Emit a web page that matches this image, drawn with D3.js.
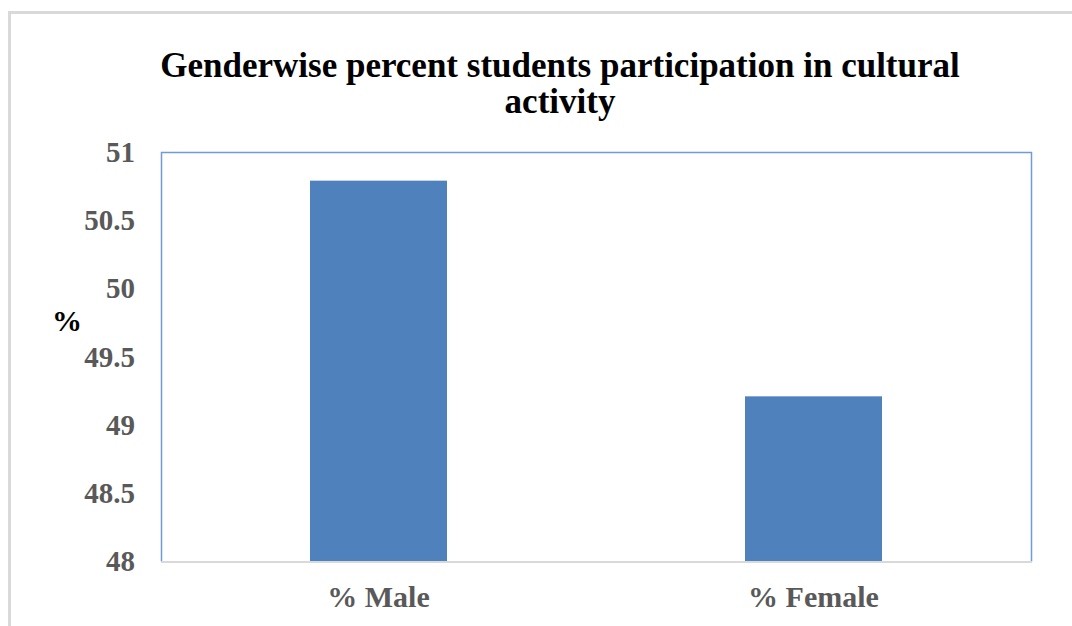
<!DOCTYPE html>
<html>
<head>
<meta charset="utf-8">
<script src="https://cdn.jsdelivr.net/npm/d3@7"></script>
<style>
  html, body { margin: 0; padding: 0; background: #ffffff; }
  svg { display: block; }
</style>
</head>
<body>
<svg id="chart" width="1072" height="626"></svg>
<script>
// Chart data
const categories = ["% Male", "% Female"];
const values = [50.79, 49.21];
const yTicks = [48, 48.5, 49, 49.5, 50, 50.5, 51];
const titleLines = ["Genderwise percent students participation in cultural", "activity"];
const yLabel = "%";

const W = 1072, H = 626;
const plot = { left: 161, right: 1031, top: 152, bottom: 561.5 };
const serif = "'Liberation Serif', 'Times New Roman', serif";

const svg = d3.select("#chart");

// Outer frame (top and left edges visible)
svg.append("path")
  .attr("d", `M9.5,${H} V12.5 H${W}`)
  .attr("fill", "none")
  .attr("stroke", "#d9d9d9")
  .attr("stroke-width", 3);

const x = d3.scaleBand()
  .domain(categories)
  .range([plot.left, plot.right])
  .paddingInner(0.685)
  .paddingOuter(0.3425);

const y = d3.scaleLinear()
  .domain([48, 51])
  .range([plot.bottom, plot.top]);

// Plot area border (blue on left, top, right)
svg.append("path")
  .attr("d", `M${plot.left + 0.5},${plot.bottom} V${plot.top + 0.5} H${plot.right + 0.5} V${plot.bottom}`)
  .attr("fill", "none")
  .attr("stroke", "#6f9bd6")
  .attr("stroke-width", 1.5);

// Bars
svg.append("g")
  .selectAll("rect")
  .data(categories)
  .join("rect")
  .attr("x", d => x(d))
  .attr("width", x.bandwidth())
  .attr("y", (d, i) => y(values[i]))
  .attr("height", (d, i) => y(48) - y(values[i]))
  .attr("fill", "#4f81bd");

// Y axis labels
const yAxis = svg.append("g")
  .attr("transform", `translate(${plot.left},0)`)
  .call(d3.axisLeft(y).tickValues(yTicks).tickSize(0).tickPadding(26)
    .tickFormat(d => String(d)));
yAxis.select(".domain").remove();
yAxis.selectAll("text")
  .attr("font-family", serif)
  .attr("font-weight", "bold")
  .attr("font-size", 29)
  .attr("fill", "#595959");

// X axis
const xAxis = svg.append("g")
  .attr("transform", `translate(0,${plot.bottom})`)
  .call(d3.axisBottom(x).tickSize(0).tickPadding(24));
xAxis.select(".domain")
  .attr("stroke", "#d9d9d9")
  .attr("stroke-width", 2)
  .attr("d", `M${plot.left},0.5H${plot.right + 1}`);
xAxis.selectAll("text")
  .attr("font-family", serif)
  .attr("font-weight", "bold")
  .attr("font-size", 30)
  .attr("fill", "#595959");

// Y axis title
svg.append("text")
  .attr("x", 67)
  .attr("y", 331)
  .attr("text-anchor", "middle")
  .attr("font-family", serif)
  .attr("font-weight", "bold")
  .attr("font-size", 30)
  .attr("fill", "#000")
  .text(yLabel);

// Title
svg.append("g")
  .selectAll("text")
  .data(titleLines)
  .join("text")
  .attr("x", 560)
  .attr("y", (d, i) => 77 + i * 36)
  .attr("text-anchor", "middle")
  .attr("font-family", serif)
  .attr("font-weight", "bold")
  .attr("font-size", 35)
  .attr("fill", "#000")
  .text(d => d);
</script>
</body>
</html>
